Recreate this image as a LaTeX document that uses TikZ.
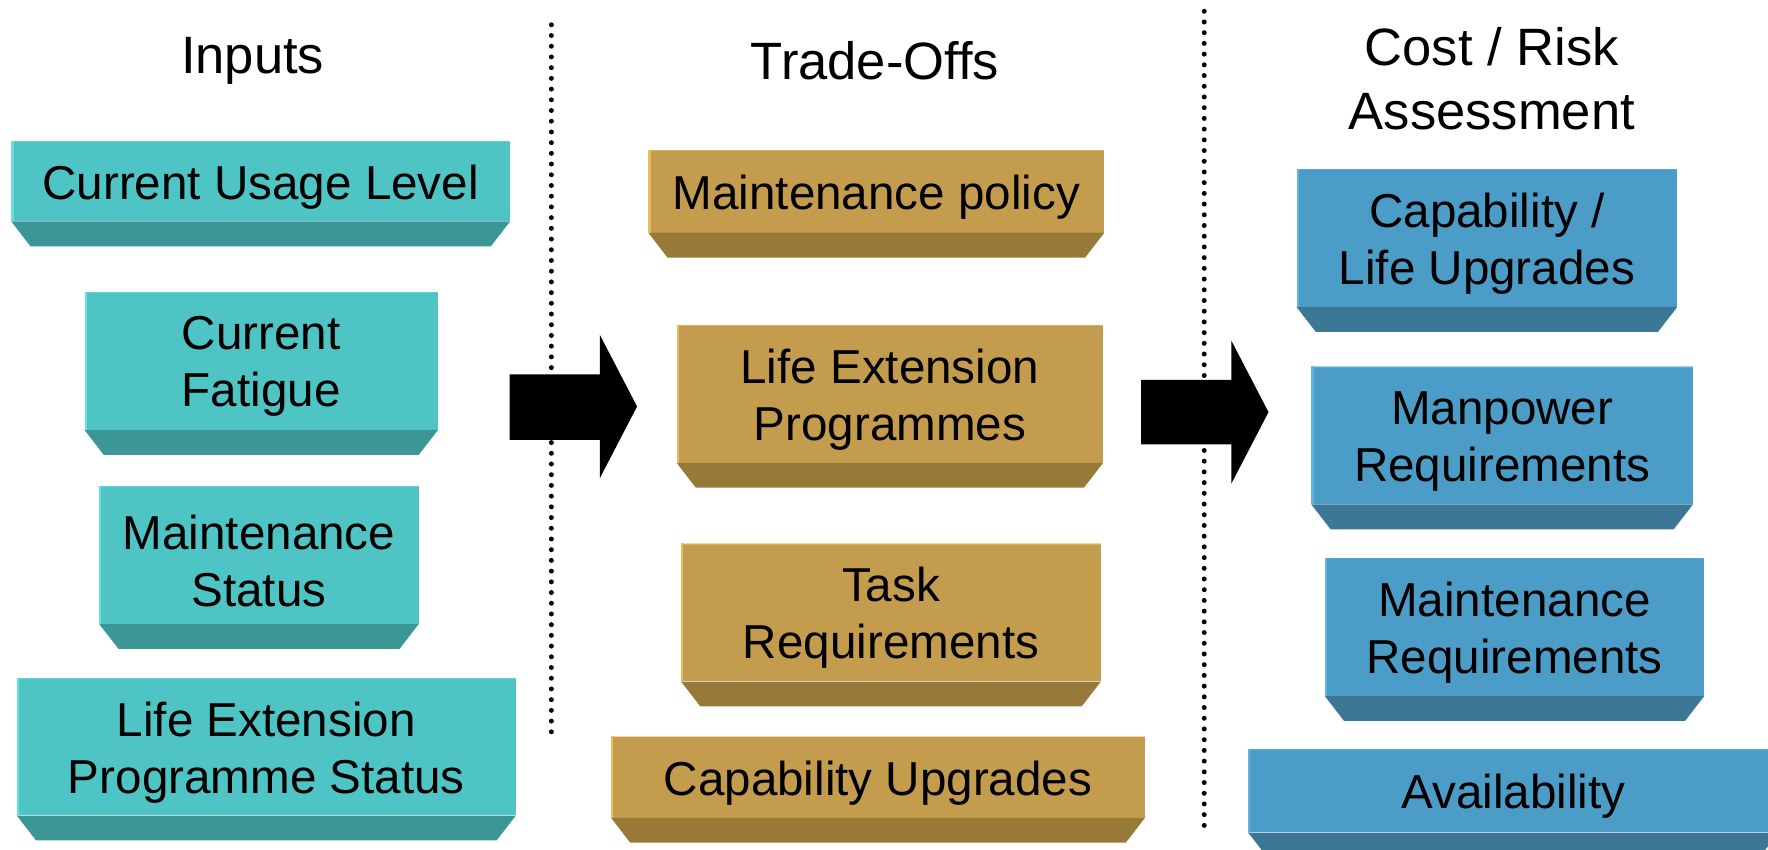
\documentclass[tikz,border=0pt]{standalone}
\usepackage{fontspec}
\setmainfont{Liberation Sans}
\definecolor{tealF}{HTML}{4FC4C4}
\definecolor{tealB}{HTML}{3C9696}
\definecolor{tealL}{HTML}{66E0E0}
\definecolor{goldF}{HTML}{C49C4E}
\definecolor{goldB}{HTML}{977938}
\definecolor{goldL}{HTML}{E8BC60}
\definecolor{blueF}{HTML}{4B9CC6}
\definecolor{blueB}{HTML}{3C7896}
\definecolor{blueL}{HTML}{60B4E0}
\newcommand\bodyfnt{\fontsize{42.2pt}{50.5pt}\selectfont}
\newcommand\headfnt{\fontsize{46.6pt}{57pt}\selectfont}
% #1 name, #2 x, #3 y, #4 w, #5 h, #6 colour prefix, #7 text
\newcommand\bevbox[7]{%
  \node[face, fill=#6F, minimum width=#4pt, minimum height=#5pt, anchor=north west] (#1) at (#2,#3) {};
  \fill[#6B] (#1.south west) -- (#1.south east) -- ([shift={(-17pt,-22pt)}]#1.south east) -- ([shift={(17pt,-22pt)}]#1.south west) -- cycle;
  \draw[#6L, line width=2pt] ([xshift=1pt]#1.south west) -- ([xshift=1pt]#1.north west);
  \draw[#6L, line width=1pt, opacity=0.6] ([yshift=-0.5pt]#1.north west) -- ([yshift=-0.5pt]#1.north east);
  \node[facetext] (#1t) at ([yshift=-5pt]#1.center) {#7};
}
\tikzset{
  face/.style={inner sep=0pt},
  facetext/.style={inner sep=0pt, text=black, font=\bodyfnt, align=center},
  head/.style={inner sep=0pt, text=black, font=\headfnt, align=center},
  dotline/.style={line width=4.4pt, line cap=round, dash pattern=on 0pt off 9.5pt},
  blockarrow/.style={fill=black}
}
\begin{document}
\begin{tikzpicture}[x=1pt, y=-1pt]
\useasboundingbox (0,0) rectangle (1568,753);
\fill[white] (0,0) rectangle (1568,753);
% headers
\node[head] (hin) at (224,54) {Inputs};
\node[head] (htr) at (776,54) {Trade-Offs};
\node[head] (hco) at (1323,70) {Cost / Risk\\Assessment};
% dotted separators
\coordinate (d1a) at (489,22);
\coordinate (d1b) at (489,650);
\coordinate (d2a) at (1068,10);
\coordinate (d2b) at (1068,733);
\draw[dotline] (d1a) -- (d1b);
\draw[dotline] (d2a) -- (d2b);
% inputs
\bevbox{in1}{10}{125}{442}{71}{teal}{Current Usage Level}
\bevbox{in2}{75}{259}{313}{122}{teal}{Current\\Fatigue}
\bevbox{in3}{88}{431}{283}{122}{teal}{Maintenance\\Status}
\bevbox{in4}{15}{601}{442}{122}{teal}{Life Extension\\Programme Status}
% trade-offs
\bevbox{tr1}{575}{133}{404}{73}{gold}{Maintenance policy}
\bevbox{tr2}{600}{288}{378}{122}{gold}{Life Extension\\Programmes}
\bevbox{tr3}{604}{482}{372}{122}{gold}{Task\\Requirements}
\bevbox{tr4}{542}{653}{473}{72}{gold}{Capability Upgrades}
% cost / risk
\bevbox{co1}{1150}{150}{337}{122}{blue}{Capability /\\Life Upgrades}
\bevbox{co2}{1163}{325}{338}{122}{blue}{Manpower\\Requirements}
\bevbox{co3}{1175}{495}{336}{122}{blue}{Maintenance\\Requirements}
\bevbox{co4}{1107}{664}{470}{74}{blue}{Availability}
% block arrows
\fill[blockarrow] (452,332) -- (532,332) -- (532,297) -- (565,360.5) -- (532,424) -- (532,390) -- (452,390) -- cycle;
\fill[blockarrow] (1012,337) -- (1092,337) -- (1092,302) -- (1125,365.5) -- (1092,429) -- (1092,394) -- (1012,394) -- cycle;
\end{tikzpicture}
\end{document}
